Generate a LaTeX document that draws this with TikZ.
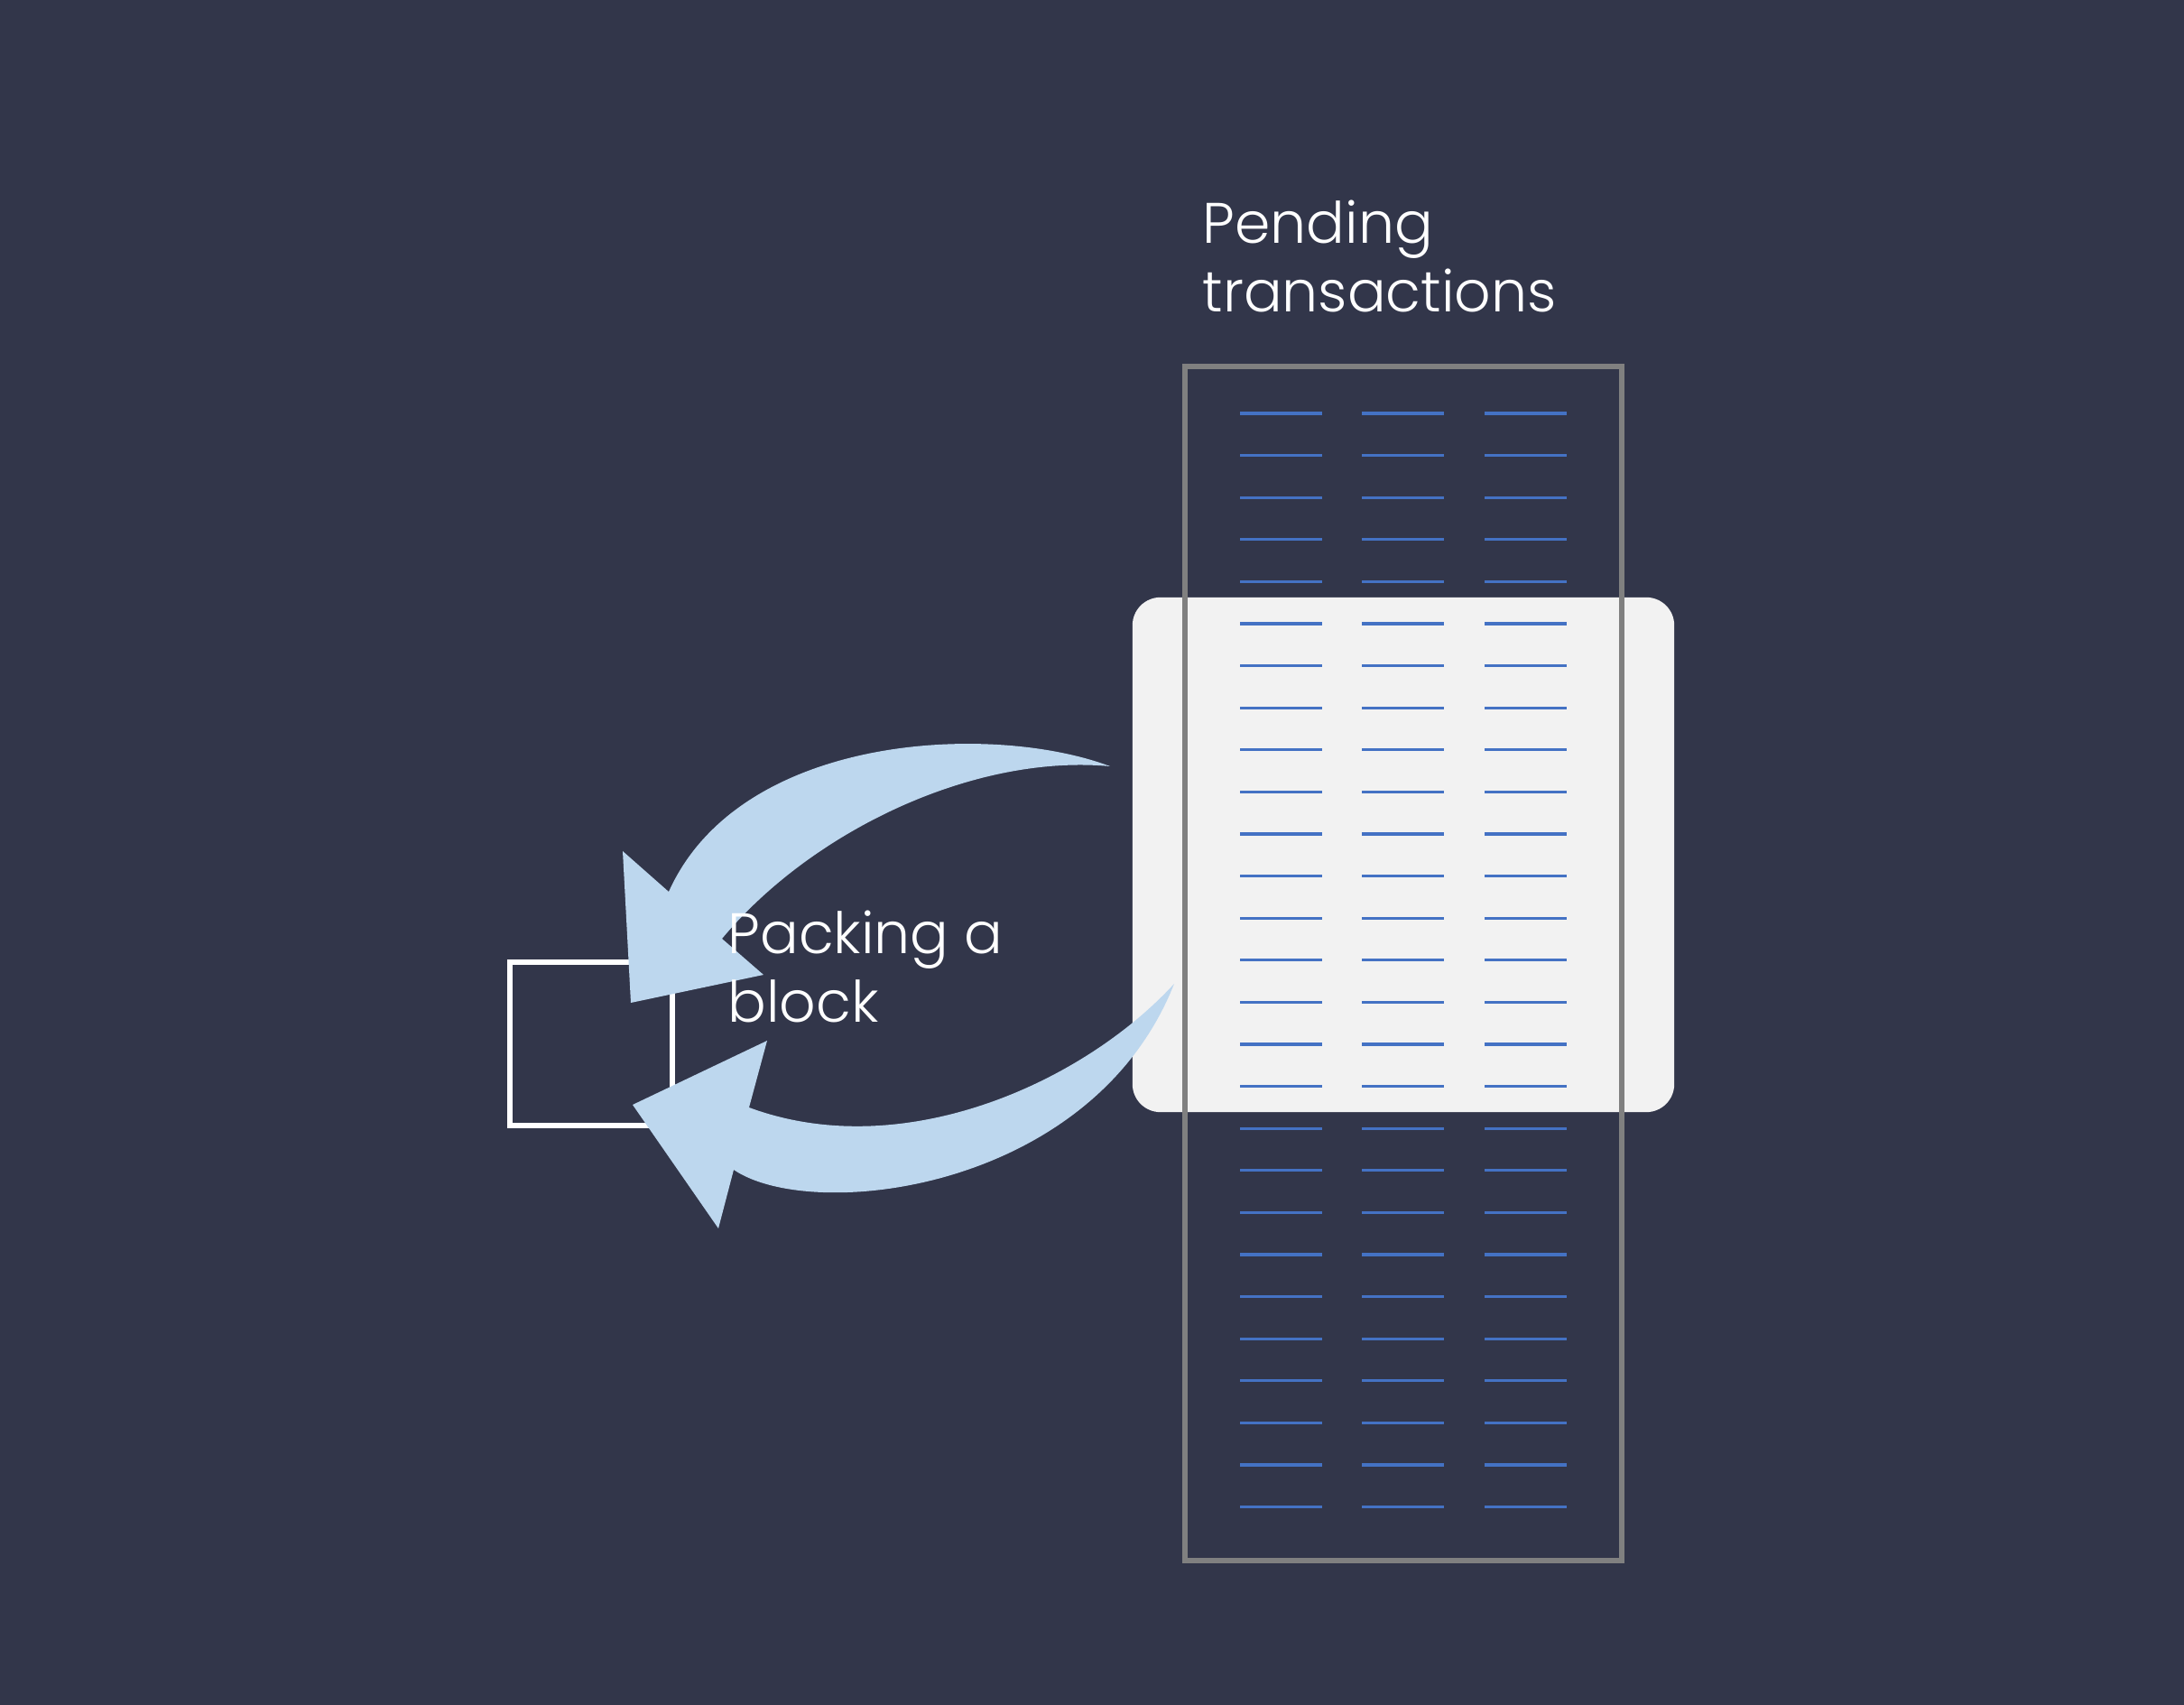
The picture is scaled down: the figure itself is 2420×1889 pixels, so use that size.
\documentclass[tikz,border=0pt]{standalone}
\usepackage{fontspec}
\setmainfont{Poppins}[UprightFont=* Light]
\usetikzlibrary{positioning}
\definecolor{slate}{RGB}{50,54,74}
\definecolor{paleblue}{RGB}{189,215,238}
\definecolor{txline}{RGB}{68,114,196}
\definecolor{panel}{RGB}{242,242,242}
\definecolor{frame}{RGB}{128,128,128}

\begin{document}
\begin{tikzpicture}[x=0.01cm,y=-0.01cm]
\tikzset{font=\fontsize{18}{22}\selectfont}
\tikzset{label text/.style={text=white, anchor=base west, inner sep=0pt}}
\tikzset{tx line/.style={draw=txline, line width=0.9pt}}
\tikzset{curl arrow/.style={fill=paleblue}}
\useasboundingbox (0,0) rectangle (2420,1889);
\fill[slate] (0,0) rectangle (2420,1889);
% window over the pool
\node (win) [fill=panel, rounded corners=0.31cm, minimum width=6cm, minimum height=5.7cm, inner sep=0pt] at (1555,947) {};
\foreach \r in {0,...,26} {
  \foreach \c in {1374,1509,1645} {
    \draw[tx line] (\c,{458+46.6*\r}) -- ++(91,0);
  }
}
\node (pool) [draw=frame, line width=1.7pt, minimum width=4.84cm, minimum height=13.23cm, inner sep=0pt] at (1555,1067.5) {};
\node (blk) [draw=white, line width=1.7pt, minimum size=1.8cm, inner sep=0pt] at (655,1156.5) {};
% upper arrow
\coordinate (upT) at (1230,849);
\coordinate (upJa) at (741,988);
\coordinate (upBa) at (690,943);
\coordinate (upTip) at (699,1111);
\coordinate (upBb) at (846,1080);
\coordinate (upJb) at (800,1040);
\fill[curl arrow] (upT) .. controls (1100,800) and (820,812) .. (upJa) -- (upBa) -- (upTip) -- (upBb) -- (upJb) .. controls (900,920) and (1080,835) .. (upT) -- cycle;
% lower arrow
\coordinate (loT) at (1301,1090);
\coordinate (loJa) at (830,1227);
\coordinate (loBa) at (850,1153);
\coordinate (loTip) at (701,1224);
\coordinate (loBb) at (796,1361);
\coordinate (loJb) at (813,1296);
\fill[curl arrow] (loT) .. controls (1200,1200) and (1000,1290) .. (loJa) -- (loBa) -- (loTip) -- (loBb) -- (loJb) .. controls (900,1355) and (1210,1320) .. (loT) -- cycle;
% labels
\node (pend1) [label text] at (1332,270) {Pending};
\node (pend2) [label text] at (1332,346) {transactions};
\node (pack1) [label text] at (806,1057) {Packing a};
\node (pack2) [label text] at (806,1133) {block};
\end{tikzpicture}
\end{document}
